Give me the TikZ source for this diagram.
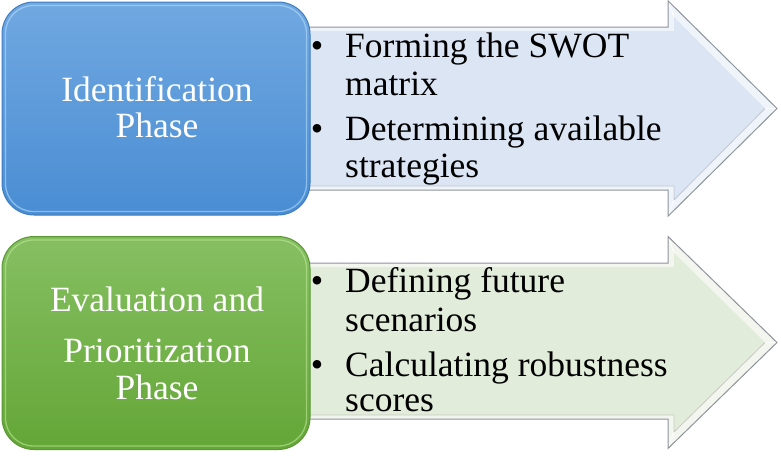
\documentclass[tikz,border=0pt]{standalone}
\usepackage{fontspec}
\setmainfont{Liberation Serif}
\definecolor{bluetop}{HTML}{70A8E1}
\definecolor{bluebot}{HTML}{4A8DD3}
\definecolor{blueedge}{HTML}{3F7DBF}
\definecolor{bluerim}{HTML}{B4DEFA}
\definecolor{greentop}{HTML}{86BF62}
\definecolor{greenbot}{HTML}{64A637}
\definecolor{greenedge}{HTML}{5A9733}
\definecolor{greenrim}{HTML}{BDE898}
\definecolor{bluepale}{HTML}{DBE5F4}
\definecolor{greenpale}{HTML}{E2ECDB}
\definecolor{arrowline}{HTML}{8E949B}
\begin{document}
\begin{tikzpicture}[x=1pt,y=-1pt,
  bigfont/.style={font=\fontsize{35.5}{38}\selectfont},
  itemtxt/.style={bigfont,anchor=base west,inner sep=0pt,text=black},
  bulletmark/.style={bigfont,anchor=base,inner sep=0pt,text=black},
  phasetxt/.style={bigfont,anchor=base,inner sep=0pt,text=white},
  phasebox/.style={minimum width=308pt,minimum height=213pt,inner sep=0pt,
    rounded corners=32pt,line width=1pt},
  rimline/.style={line width=1.3pt,rounded corners=28pt,opacity=0.6},
  arrowband/.style={fill=#1},
  arrowcore/.style={fill=#1},
  arrowoutline/.style={draw=arrowline,line width=1pt,line join=miter},
  facet/.style={draw=white,line width=1pt,opacity=0.8},
  shadeline/.style={draw=black!35,line width=0.8pt,opacity=0.5}]
\useasboundingbox (0,0) rectangle (781,455);

% ---------- upper arrow ----------
\fill[arrowband=white!55!bluepale]
  (300,27) -- (668,27) -- (668,0.8) -- (777,108.5) -- (668,216.2)
  -- (668,190) -- (300,190) -- cycle;
\fill[arrowcore=bluepale]
  (300,31) -- (674,31) -- (674,17) -- (765,108.5) -- (674,200)
  -- (674,186) -- (300,186) -- cycle;
\draw[shadeline] (765,108.5) -- (674,200) -- (674,186) -- (300,186);
\draw[facet] (668,0.8) -- (674,17) (777,108.5) -- (765,108.5) (668,216.2) -- (674,200);
\draw[arrowoutline]
  (300,27) -- (668,27) -- (668,0.8) -- (777,108.5) -- (668,216.2)
  -- (668,190) -- (300,190);

% ---------- lower arrow ----------
\fill[arrowband=white!55!greenpale]
  (300,263) -- (668,263) -- (668,236.5) -- (777,342.5) -- (668,448.5)
  -- (668,419) -- (300,419) -- cycle;
\fill[arrowcore=greenpale]
  (300,267) -- (674,267) -- (674,253) -- (765,342.5) -- (674,432)
  -- (674,415) -- (300,415) -- cycle;
\draw[shadeline] (765,342.5) -- (674,432) -- (674,415) -- (300,415);
\draw[facet] (668,236.5) -- (674,253) (777,342.5) -- (765,342.5) (668,448.5) -- (674,432);
\draw[arrowoutline]
  (300,263) -- (668,263) -- (668,236.5) -- (777,342.5) -- (668,448.5)
  -- (668,419) -- (300,419);

% ---------- phase boxes ----------
\node[phasebox,draw=blueedge,top color=bluetop,bottom color=bluebot]
  (idbox) at (156,108.5) {};
\draw[rimline,draw=bluerim]
  ([shift={(4pt,-4pt)}]idbox.north west) rectangle ([shift={(-4pt,4pt)}]idbox.south east);

\node[phasebox,draw=greenedge,top color=greentop,bottom color=greenbot]
  (evbox) at (156,343) {};
\draw[rimline,draw=greenrim]
  ([shift={(4pt,-4pt)}]evbox.north west) rectangle ([shift={(-4pt,4pt)}]evbox.south east);

% ---------- phase titles ----------
\node[phasetxt] (id1) at (157,101) {Identification};
\node[phasetxt] (id2) at (157,137) {Phase};
\node[phasetxt] (ev1) at (157,311) {Evaluation and};
\node[phasetxt] (ev2) at (157,362) {Prioritization};
\node[phasetxt] (ev3) at (157,399) {Phase};

% ---------- bullet lists ----------
\node[bulletmark] (b1) at (317,57) {\textbullet};
\node[itemtxt] (t1a) at (345,57) {Forming the SWOT};
\node[itemtxt] (t1b) at (345,95) {matrix};
\node[bulletmark] (b2) at (317,140) {\textbullet};
\node[itemtxt] (t2a) at (345,140) {Determining available};
\node[itemtxt] (t2b) at (345,177) {strategies};

\node[bulletmark] (b3) at (317,292) {\textbullet};
\node[itemtxt] (t3a) at (345,292) {Defining future};
\node[itemtxt] (t3b) at (345,331) {scenarios};
\node[bulletmark] (b4) at (317,376) {\textbullet};
\node[itemtxt] (t4a) at (345,376) {Calculating robustness};
\node[itemtxt] (t4b) at (345,411) {scores};
\end{tikzpicture}
\end{document}
